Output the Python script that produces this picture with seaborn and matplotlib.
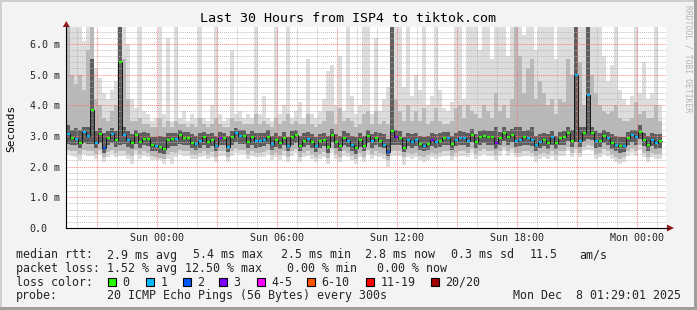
import numpy as np
import pandas as pd
import matplotlib
matplotlib.use("Agg")
import matplotlib.pyplot as plt
import seaborn as sns
from matplotlib.patches import Polygon, Rectangle
from matplotlib.lines import Line2D

# ---------------- data (ms), one value per 12-minute step ----------------
start_hour = -4.52          # hours relative to Sun 00:00
step_hours = 0.2

median_ms = [
    3.05, 2.92, 2.90, 2.76, 3.12, 3.00, 3.85, 2.78, 3.05, 2.60,
    2.93, 3.05, 2.86, 5.42, 3.02, 2.88, 2.76, 3.02, 2.80, 2.91,
    2.90, 2.70, 2.67, 2.63, 2.58, 2.86, 2.91, 2.90, 3.02, 2.92,
    2.92, 2.78, 2.74, 2.84, 2.95, 2.80, 2.88, 2.66, 2.93, 2.93,
    2.64, 2.97, 3.08, 3.00, 3.00, 2.80, 2.97, 2.84, 2.85, 2.88,
    2.98, 2.74, 2.86, 2.76, 2.92, 2.66, 2.95, 3.02, 2.68, 2.84,
    2.91, 2.81, 2.66, 2.82, 2.86, 2.64, 3.03, 2.81, 2.68, 2.94,
    2.85, 2.71, 2.60, 2.86, 2.68, 3.00, 2.82, 2.92, 2.83, 2.70,
    2.48, 3.17, 2.95, 2.93, 2.62, 2.87, 2.80, 2.88, 2.74, 2.67,
    2.74, 2.88, 2.80, 2.85, 2.92, 2.92, 2.74, 2.88, 2.92, 2.92,
    2.84, 3.03, 2.81, 2.95, 3.00, 2.95, 2.95, 2.76, 2.92, 3.10,
    2.95, 3.03, 2.85, 2.87, 2.95, 2.92, 2.88, 2.70, 2.81, 2.88,
    2.78, 2.95, 2.76, 2.92, 2.95, 3.09, 2.85, 4.98, 2.85, 3.08,
    4.33, 3.10, 2.84, 2.85, 3.00, 2.92, 2.78, 2.70, 2.66, 2.67,
    2.92, 3.02, 2.95, 3.12, 2.88, 2.70, 2.87, 2.78, 2.82,
]
loss_count = [
    1, 0, 1, 0, 1, 1, 0, 1, 0, 2,
    0, 1, 0, 0, 1, 1, 0, 0, 0, 0,
    0, 0, 1, 0, 0, 0, 0, 1, 0, 0,
    0, 0, 1, 1, 0, 0, 0, 1, 3, 0,
    1, 0, 1, 1, 0, 0, 0, 1, 1, 1,
    0, 1, 0, 0, 0, 1, 0, 0, 0, 0,
    1, 0, 1, 0, 0, 0, 0, 0, 0, 0,
    1, 1, 0, 0, 0, 0, 1, 0, 0, 1,
    2, 0, 3, 0, 0, 1, 1, 1, 0, 1,
    0, 3, 1, 0, 0, 1, 0, 1, 1, 1,
    1, 0, 0, 0, 0, 0, 0, 3, 0, 0,
    0, 0, 1, 1, 0, 1, 1, 1, 1, 0,
    0, 1, 0, 0, 0, 0, 0, 1, 1, 0,
    1, 0, 1, 0, 0, 1, 0, 1, 0, 1,
    0, 1, 1, 0, 0, 0, 1, 1, 0,
]
smoke_max = [
    6.6, 6.6, 6.6, 6.6, 6.1, 6.6, 6.6, 5.2, 4.9, 4.4,
    4.2, 4.5, 4.8, 6.6, 6.6, 6.0, 4.2, 3.9, 6.6, 3.8,
    3.7, 3.5, 3.6, 6.6, 3.7, 6.2, 3.5, 6.6, 3.6, 3.8,
    3.5, 3.7, 3.6, 6.6, 3.6, 3.5, 4.0, 6.6, 3.7, 3.5,
    3.6, 5.8, 3.7, 3.8, 3.6, 3.7, 3.6, 6.6, 3.7, 4.3,
    3.6, 3.5, 6.6, 3.7, 4.0, 6.6, 3.6, 3.8, 4.1, 3.6,
    5.5, 3.7, 3.6, 3.8, 4.2, 5.1, 5.3, 4.0, 5.6, 3.8,
    6.6, 4.3, 3.7, 4.0, 6.6, 6.6, 3.7, 6.2, 3.8, 4.2,
    4.6, 6.6, 6.6, 6.6, 4.6, 6.6, 4.3, 5.0, 4.5, 6.6,
    4.0, 4.3, 6.6, 4.5, 3.9, 3.8, 4.1, 6.6, 6.6, 4.2,
    6.6, 6.6, 6.6, 5.8, 6.6, 6.6, 5.5, 6.6, 6.6, 6.6,
    5.6, 6.6, 6.6, 6.6, 6.3, 6.6, 6.6, 5.8, 6.6, 6.6,
    6.6, 6.6, 5.5, 6.6, 6.6, 6.6, 6.6, 6.6, 6.6, 6.6,
    6.6, 6.6, 6.6, 6.6, 5.6, 4.8, 5.3, 6.6, 4.5, 4.2,
    4.0, 4.3, 6.6, 4.4, 5.4, 4.2, 4.4, 6.6, 4.0,
]
smoke_p90 = [
    6.6, 5.0, 4.7, 5.0, 4.5, 5.8, 6.6, 4.2, 4.0, 3.6,
    3.5, 3.8, 4.0, 6.6, 5.5, 4.2, 3.5, 3.5, 3.6, 3.4,
    3.4, 3.3, 3.3, 3.6, 3.3, 3.5, 3.3, 3.5, 3.4, 3.4,
    3.3, 3.4, 3.3, 3.6, 3.4, 3.3, 3.4, 3.6, 3.4, 3.3,
    3.3, 3.6, 3.5, 3.5, 3.4, 3.4, 3.4, 3.7, 3.4, 3.5,
    3.4, 3.3, 3.6, 3.4, 3.5, 3.7, 3.4, 3.5, 3.4, 3.4,
    3.7, 3.4, 3.3, 3.4, 3.5, 3.8, 3.8, 3.4, 3.9, 3.5,
    3.6, 3.5, 3.3, 3.4, 3.7, 3.8, 3.4, 3.8, 3.4, 3.5,
    3.4, 6.6, 4.2, 3.8, 3.5, 4.0, 3.5, 3.8, 3.5, 3.9,
    3.4, 3.5, 3.9, 3.5, 3.4, 3.4, 3.5, 3.9, 4.0, 3.6,
    4.0, 3.8, 3.7, 3.6, 4.0, 3.8, 3.6, 4.4, 3.8, 4.0,
    3.6, 4.2, 6.6, 5.6, 4.4, 5.2, 5.5, 4.2, 4.8, 4.4,
    4.0, 4.2, 3.7, 4.2, 4.1, 5.5, 5.0, 6.6, 5.4, 4.0,
    6.6, 5.0, 4.4, 4.0, 3.8, 3.7, 3.8, 4.0, 3.6, 3.5,
    3.5, 3.6, 4.1, 3.7, 3.8, 3.6, 3.6, 4.0, 3.5,
]
smoke_p75 = [
    3.35, 3.20, 3.25, 3.20, 3.30, 3.30, 5.50, 3.15, 3.25, 3.10,
    3.15, 3.25, 3.15, 6.60, 3.30, 3.15, 3.05, 3.20, 3.10, 3.12,
    3.10, 2.98, 2.95, 3.00, 2.95, 3.08, 3.10, 3.10, 3.20, 3.12,
    3.12, 3.05, 3.00, 3.08, 3.12, 3.05, 3.10, 3.00, 3.12, 3.10,
    3.00, 3.15, 3.25, 3.20, 3.20, 3.05, 3.15, 3.08, 3.10, 3.10,
    3.18, 3.00, 3.10, 3.00, 3.12, 2.98, 3.15, 3.20, 3.00, 3.08,
    3.12, 3.05, 2.98, 3.05, 3.10, 3.00, 3.22, 3.05, 3.00, 3.15,
    3.10, 3.00, 2.95, 3.08, 3.00, 3.20, 3.05, 3.12, 3.08, 3.05,
    2.90, 6.60, 3.20, 3.15, 2.95, 3.10, 3.05, 3.10, 3.00, 2.98,
    3.00, 3.10, 3.05, 3.08, 3.12, 3.12, 3.00, 3.10, 3.15, 3.12,
    3.10, 3.22, 3.05, 3.15, 3.20, 3.15, 3.15, 3.30, 3.12, 3.28,
    3.15, 3.22, 3.30, 3.30, 3.15, 3.20, 3.30, 3.00, 3.05, 3.10,
    3.05, 3.15, 3.00, 3.12, 3.15, 3.30, 3.20, 6.60, 3.30, 3.28,
    6.60, 3.30, 3.15, 3.08, 3.20, 3.12, 3.05, 3.00, 2.98, 2.95,
    3.12, 3.20, 3.20, 3.35, 3.10, 3.00, 3.10, 3.05, 3.05,
]
smoke_p25 = [
    2.75, 2.70, 2.70, 2.60, 2.78, 2.75, 2.75, 2.60, 2.78, 2.45,
    2.70, 2.78, 2.65, 2.70, 2.75, 2.65, 2.58, 2.75, 2.62, 2.70,
    2.68, 2.52, 2.50, 2.45, 2.42, 2.62, 2.68, 2.68, 2.75, 2.70,
    2.70, 2.60, 2.55, 2.62, 2.72, 2.60, 2.66, 2.50, 2.70, 2.70,
    2.48, 2.72, 2.80, 2.75, 2.75, 2.60, 2.72, 2.62, 2.64, 2.66,
    2.74, 2.55, 2.65, 2.56, 2.70, 2.50, 2.72, 2.78, 2.50, 2.64,
    2.70, 2.60, 2.48, 2.62, 2.66, 2.46, 2.80, 2.60, 2.50, 2.72,
    2.64, 2.52, 2.42, 2.65, 2.50, 2.76, 2.62, 2.70, 2.64, 2.60,
    2.35, 2.70, 2.70, 2.70, 2.48, 2.66, 2.62, 2.66, 2.55, 2.50,
    2.55, 2.66, 2.60, 2.64, 2.70, 2.70, 2.55, 2.66, 2.70, 2.70,
    2.64, 2.80, 2.60, 2.72, 2.78, 2.72, 2.72, 2.56, 2.70, 2.85,
    2.72, 2.80, 2.64, 2.66, 2.72, 2.70, 2.66, 2.52, 2.60, 2.66,
    2.58, 2.72, 2.56, 2.70, 2.72, 2.85, 2.64, 2.80, 2.65, 2.85,
    2.90, 2.88, 2.62, 2.64, 2.78, 2.70, 2.58, 2.50, 2.45, 2.48,
    2.70, 2.80, 2.72, 2.90, 2.66, 2.50, 2.66, 2.58, 2.60,
]
smoke_p10 = [
    2.55, 2.50, 2.50, 2.40, 2.55, 2.50, 2.50, 2.40, 2.55, 2.30,
    2.48, 2.55, 2.45, 2.50, 2.50, 2.42, 2.35, 2.55, 2.40, 2.50,
    2.45, 2.35, 2.32, 2.28, 2.25, 2.42, 2.48, 2.45, 2.55, 2.50,
    2.50, 2.42, 2.38, 2.45, 2.52, 2.40, 2.48, 2.32, 2.50, 2.50,
    2.30, 2.50, 2.60, 2.55, 2.55, 2.42, 2.52, 2.45, 2.45, 2.48,
    2.55, 2.38, 2.45, 2.38, 2.50, 2.32, 2.52, 2.58, 2.32, 2.45,
    2.50, 2.42, 2.30, 2.42, 2.48, 2.28, 2.60, 2.42, 2.32, 2.52,
    2.45, 2.35, 2.25, 2.45, 2.32, 2.55, 2.42, 2.50, 2.45, 2.42,
    2.20, 2.50, 2.50, 2.50, 2.30, 2.46, 2.42, 2.46, 2.36, 2.32,
    2.38, 2.46, 2.42, 2.45, 2.50, 2.50, 2.36, 2.46, 2.50, 2.50,
    2.45, 2.60, 2.42, 2.52, 2.58, 2.52, 2.52, 2.38, 2.50, 2.65,
    2.52, 2.60, 2.45, 2.46, 2.52, 2.50, 2.46, 2.34, 2.42, 2.46,
    2.40, 2.52, 2.38, 2.50, 2.52, 2.65, 2.45, 2.60, 2.45, 2.65,
    2.70, 2.68, 2.42, 2.45, 2.58, 2.50, 2.40, 2.32, 2.25, 2.30,
    2.50, 2.60, 2.52, 2.70, 2.46, 2.32, 2.46, 2.40, 2.42,
]
smoke_min = [
    2.40, 2.35, 2.30, 2.20, 2.40, 2.35, 2.35, 2.25, 2.40, 2.15,
    2.30, 2.40, 2.30, 2.35, 2.35, 2.25, 2.10, 2.40, 2.25, 2.35,
    2.30, 2.20, 2.20, 2.20, 2.10, 2.25, 2.10, 2.30, 2.40, 2.35,
    2.35, 2.25, 2.25, 2.30, 2.35, 2.25, 2.30, 2.15, 2.35, 2.35,
    2.15, 2.35, 2.45, 2.40, 2.40, 2.25, 2.35, 2.30, 2.30, 2.30,
    2.40, 2.20, 2.30, 2.20, 2.35, 2.15, 2.35, 2.45, 2.15, 2.30,
    2.35, 2.25, 2.15, 2.25, 2.30, 2.10, 2.45, 2.25, 2.15, 2.35,
    2.30, 2.20, 2.10, 2.30, 2.15, 2.40, 2.25, 2.35, 2.30, 2.25,
    2.00, 2.35, 2.35, 2.35, 2.05, 2.30, 2.25, 2.30, 2.20, 2.15,
    2.20, 2.30, 2.25, 2.30, 2.35, 2.35, 2.20, 2.30, 2.35, 2.35,
    2.30, 2.45, 2.25, 2.35, 2.40, 2.35, 2.35, 2.20, 2.35, 2.50,
    2.35, 2.45, 2.30, 2.30, 2.35, 2.35, 2.30, 2.15, 2.25, 2.30,
    2.25, 2.35, 2.20, 2.35, 2.35, 2.50, 2.30, 2.45, 2.30, 2.50,
    2.55, 2.50, 2.25, 2.30, 2.40, 2.35, 2.25, 2.15, 2.10, 2.15,
    2.35, 2.45, 2.35, 2.55, 2.30, 2.15, 2.30, 2.25, 2.25,
]

x_tick_hours = [0, 6, 12, 18, 24]
x_tick_labels = ["Sun 00:00", "Sun 06:00", "Sun 12:00", "Sun 18:00", "Mon 00:00"]
y_tick_values = [0, 1, 2, 3, 4, 5, 6]
y_tick_labels = ["0.0", "1.0 m", "2.0 m", "3.0 m", "4.0 m", "5.0 m", "6.0 m"]

title = "Last 30 Hours from ISP4 to tiktok.com"
loss_color_map = {0: "#26ff00", 1: "#00b8ff", 2: "#0059ff", 3: "#7e00ff"}
legend_loss_labels = ["0", "1", "2", "3", "4-5", "6-10", "11-19", "20/20"]
legend_loss_colors = ["#26ff00", "#00b8ff", "#0059ff", "#7e00ff",
                      "#ff00ff", "#ff5500", "#ff0000", "#a10000"]
rtt_stats = ["2.9 ms avg", "5.4 ms max", "2.5 ms min", "2.8 ms now", "0.3 ms sd", "11.5", "am/s"]
loss_stats = ["1.52 % avg", "12.50 % max", "0.00 % min", "0.00 % now"]
probe_text = "20 ICMP Echo Pings (56 Bytes) every 300s"
stamp_text = "Mon Dec  8 01:29:01 2025"

# ---------------- figure ----------------
sns.set_style("white")
plt.rcParams["font.family"] = ["DejaVu Sans Mono", "DejaVu Sans"]

W, H = 697, 310
def fx(px):
    return px / W
def fy(py):
    return 1 - py / H

fig = plt.figure(figsize=(W / 100, H / 100), dpi=100, facecolor="#f3f3f3")

# 3D frame
fig.add_artist(Rectangle((0, 1 - 2 / H), 1, 2 / H, transform=fig.transFigure, color="#cfcfcf", lw=0))
fig.add_artist(Rectangle((0, 0), 2 / W, 1, transform=fig.transFigure, color="#cfcfcf", lw=0))
fig.add_artist(Rectangle((0, 0), 1, 3 / H, transform=fig.transFigure, color="#9e9e9e", lw=0))
fig.add_artist(Rectangle((1 - 3 / W, 0), 3 / W, 1, transform=fig.transFigure, color="#9e9e9e", lw=0))

ax_left, ax_right, ax_top, ax_bot = 66.3, 666.3, 27, 228
ax = fig.add_axes([fx(ax_left), fy(ax_bot), (ax_right - ax_left) / W, (ax_bot - ax_top) / H])
ax.set_facecolor("white")
ax.set_xlim(-4.52, 25.48)
ax.set_ylim(0, 6.55)

n = len(median_ms)
edges = start_hour + step_hours * np.arange(n + 1)

def ext(a):
    a = np.asarray(a, dtype=float)
    return np.append(a, a[-1])

layers = [
    (smoke_min, smoke_max, "#dddddd"),
    (smoke_p10, smoke_p90, "#b9b9b9"),
    (smoke_p25, smoke_p75, "#5e5e5e"),
]
for lo, hi, c in layers:
    ax.fill_between(edges, ext(lo), ext(hi), step="post", color=c, lw=0, zorder=1)

# grid (drawn above the smoke like rrdtool, semi-transparent)
dot = (0, (1, 1))
for h in range(-4, 26):
    major = (h % 3 == 0)
    ax.axvline(h, color="#ff6a6a" if major else "#b4b4b4", alpha=0.85, lw=0.7, ls=dot, zorder=2)
for k in range(1, 33):
    v = k * 0.2
    major = (k % 5 == 0)
    ax.axhline(v, color="#ff6a6a" if major else "#b4b4b4", alpha=0.85, lw=0.7, ls=dot, zorder=2)

# median line
med_df = pd.DataFrame({"hour": edges, "median": ext(median_ms)})
sns.lineplot(data=med_df, x="hour", y="median", ax=ax, color="#151515", lw=0.7,
             drawstyle="steps-post", estimator=None, zorder=3)

# loss-coloured median marks
mid_lo = edges[:-1] + 0.02
mid_hi = edges[1:] - 0.02
cols = [loss_color_map[l] for l in loss_count]
ax.hlines(median_ms, mid_lo, mid_hi, colors=cols, lw=1.6, zorder=4)

# axes styling
for s in ["top", "right"]:
    ax.spines[s].set_visible(False)
for s in ["left", "bottom"]:
    ax.spines[s].set_color("black")
    ax.spines[s].set_linewidth(0.8)
    ax.spines[s].set_zorder(5)

ax.set_xticks(x_tick_hours)
ax.set_xticklabels(x_tick_labels, fontsize=7.2)
ax.set_yticks(y_tick_values)
ax.set_yticklabels(y_tick_labels, fontsize=7.2, ha="left")
ax.tick_params(axis="x", length=0, pad=3.5)
ax.tick_params(axis="y", length=3, width=0.7, pad=(ax_left - 3 - 31) * 0.72)
ax.set_xlabel("")
ax.set_ylabel("")

# arrows
arrow_c = "#8e1a1a"
fig.add_artist(Line2D([fx(ax_right), fx(668)], [fy(ax_bot), fy(ax_bot)], transform=fig.transFigure,
                      color="black", lw=0.8))
fig.add_artist(Polygon([[fx(667), fy(224.5)], [fx(667), fy(231.5)], [fx(674), fy(228)]],
                       closed=True, transform=fig.transFigure, color=arrow_c, lw=0))
fig.add_artist(Polygon([[fx(62.8), fy(27)], [fx(69.8), fy(27)], [fx(66.3), fy(21)]],
                       closed=True, transform=fig.transFigure, color=arrow_c, lw=0))

# texts
fig.text(fx(348), fy(19), title, ha="center", va="center", fontsize=9.6, color="black")
fig.text(fx(11), fy(128), "Seconds", rotation=90, ha="center", va="center", fontsize=8, color="black")
fig.text(fx(688), fy(5), "RRDTOOL / TOBI OETIKER", rotation=270, ha="center", va="top",
         fontsize=5.8, color="#b4b4b4")

fs = 8.4
y1, y2, y3, y4 = 255, 268.5, 282.3, 295.8
fig.text(fx(16), fy(y1), "median rtt:", ha="left", va="center", fontsize=fs)
for xp, t in zip([107, 192.7, 281, 365, 451, 530, 579.3], rtt_stats):
    fig.text(fx(xp), fy(y1), t, ha="left", va="center", fontsize=fs)
fig.text(fx(16), fy(y2), "packet loss:", ha="left", va="center", fontsize=fs)
for xp, t in zip([107, 185, 286.7, 376.7], loss_stats):
    fig.text(fx(xp), fy(y2), t, ha="left", va="center", fontsize=fs)
fig.text(fx(16), fy(y3), "loss color:", ha="left", va="center", fontsize=fs)
box_x = [108, 146, 183, 219, 257, 307, 366, 431]
for bx, lab, c in zip(box_x, legend_loss_labels, legend_loss_colors):
    fig.add_artist(Rectangle((fx(bx), fy(y3 + 4)), 8 / W, 8 / H, transform=fig.transFigure,
                             facecolor=c, edgecolor="black", lw=0.8))
    fig.text(fx(bx + 14.5), fy(y3), lab, ha="left", va="center", fontsize=fs)
fig.text(fx(16), fy(y4), "probe:", ha="left", va="center", fontsize=fs)
fig.text(fx(107), fy(y4), probe_text, ha="left", va="center", fontsize=fs)
fig.text(fx(513.3), fy(y4), stamp_text, ha="left", va="center", fontsize=fs)

fig.savefig("out.png", dpi=100, facecolor=fig.get_facecolor())
